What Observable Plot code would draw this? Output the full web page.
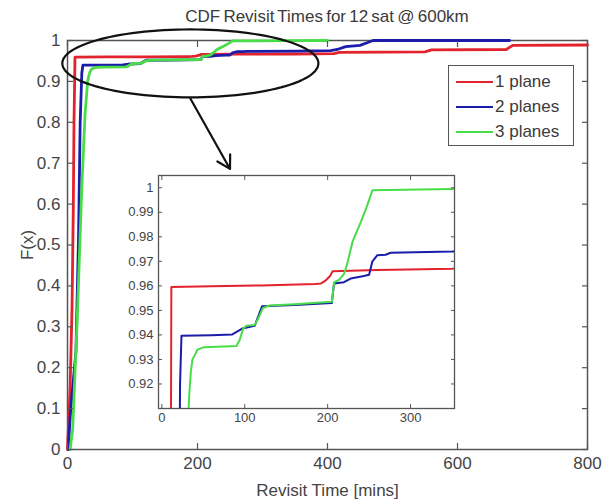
<!DOCTYPE html>
<html><head><meta charset="utf-8">
<script src="https://cdn.jsdelivr.net/npm/d3@7"></script>
<script src="https://cdn.jsdelivr.net/npm/@observablehq/plot@0.6"></script>
<style>
html,body{margin:0;padding:0;background:#fff;}
#wrap{position:relative;width:602px;height:501px;overflow:hidden;font-family:"Liberation Sans",Arial,sans-serif;color:#444;}
#main{position:absolute;left:0;top:0;}
#inset{position:absolute;left:110px;top:165px;}
#title{position:absolute;left:67px;width:520px;top:7px;text-align:center;font-size:17px;word-spacing:-1.5px;color:#3a3a3a;}
#legend{position:absolute;left:448px;top:65px;width:124px;height:79px;border:1.5px solid #555;background:#fff;}
.row{position:absolute;left:0;height:20px;font-size:17px;line-height:20px;color:#3a3a3a;}
.row span.sw{position:absolute;left:7px;top:9px;width:37px;height:0;border-top:2.5px solid #000;}
.row span.tx{position:absolute;left:46px;top:0;white-space:nowrap;}
</style></head>
<body>
<div id="wrap">
  <div id="main"></div>
  <div id="inset"></div>
  <div id="title"></div>
  <div id="legend"></div>
</div>
<script>
// ---- data ----
const titleText = "CDF Revisit Times for 12 sat @ 600km";
const xLabel = "Revisit Time [mins]";
const yLabel = "F(x)";
const seriesNames = ["1 plane", "2 planes", "3 planes"];
const seriesColors = ["#e2232d", "#1c1caa", "#48dd48"];

const red = [[0,0],[4,0.15],[7,0.35],[9,0.6],[10,0.8],[11,0.9],[11.5,0.9595],[60,0.9598],[120,0.9602],[185,0.9608],[192,0.961],[197,0.962],[203,0.964],[206,0.966],[260,0.9665],[350,0.967],[410,0.968],[418,0.971],[550,0.972],[560,0.977],[675,0.978],[685,0.988],[800,0.989]];
const blue = [[1,0],[5,0.1],[13,0.24],[17,0.52],[19.5,0.8],[22,0.92],[23.7,0.9397],[60,0.9399],[85,0.9402],[97,0.9426],[112,0.9437],[121,0.9517],[160,0.9522],[205,0.953],[207.7,0.961],[219.7,0.9615],[227.7,0.963],[243.7,0.964],[250,0.9645],[254,0.970],[260,0.9725],[270,0.9727],[276,0.9735],[350,0.974],[405,0.975],[415,0.978],[428,0.985],[450,0.988],[462,0.995],[470,1.0],[680,1.0]];
const green = [[4,0],[8,0.05],[15,0.32],[22,0.64],[27,0.82],[31,0.9],[33,0.915],[35,0.925],[37,0.930],[43,0.934],[51,0.935],[90,0.9355],[94,0.938],[98,0.9425],[102,0.9437],[112,0.944],[116,0.9465],[122,0.951],[130,0.952],[160,0.9525],[205,0.9535],[208,0.9615],[214,0.9625],[220,0.965],[224,0.9695],[230,0.978],[240,0.986],[248,0.993],[254,0.999],[350,0.9995],[400,1.0]];
const seriesData = [red, blue, green];

const xTicks = [0, 200, 400, 600, 800];
const yTicks = [0, 0.1, 0.2, 0.3, 0.4, 0.5, 0.6, 0.7, 0.8, 0.9, 1];
const insetXTicks = [0, 100, 200, 300];
const insetYTicks = [0.92, 0.93, 0.94, 0.95, 0.96, 0.97, 0.98, 0.99, 1];

// zoom annotation (data units): ellipse centre/radii, arrow start/end
const ellipseC = [189, 0.944];
const ellipseR = [197, 0.083];
const arrowFrom = [189, 0.858];
const arrowTo = [250, 0.686];

// ---- build ----
const fmt = d => String(+(+d).toFixed(2));
const font = '"Liberation Sans", Arial, sans-serif';
const axisCol = "#555";

const ellipsePts = d3.range(0, 121).map(i => {
  const t = i / 120 * 2 * Math.PI;
  return [ellipseC[0] + ellipseR[0] * Math.cos(t), ellipseC[1] + ellipseR[1] * Math.sin(t)];
});

const lineMarks = (sw, clip) => seriesData.map((s, i) =>
  Plot.line(s, {x: d => d[0], y: d => d[1], stroke: seriesColors[i], strokeWidth: sw, clip}));

const mainChart = Plot.plot({
  width: 602, height: 501,
  marginLeft: 67, marginRight: 15, marginTop: 40, marginBottom: 52,
  x: {domain: [0, 800]},
  y: {domain: [0, 1]},
  style: {fontFamily: font, fontSize: "17px", color: "#444", background: "transparent", overflow: "visible"},
  marks: [
    Plot.frame({stroke: axisCol, strokeWidth: 1.5}),
    ...lineMarks(2.8, false),
    Plot.axisX({anchor: "bottom", ticks: xTicks, tickSize: -6, tickPadding: 13, tickFormat: fmt, stroke: axisCol, strokeWidth: 1.2,
      label: xLabel, labelAnchor: "center", labelArrow: "none", labelOffset: 46}),
    Plot.axisX({anchor: "top", ticks: xTicks, tickSize: -6, tickFormat: () => "", stroke: axisCol, strokeWidth: 1.2, label: null}),
    Plot.axisY({anchor: "left", ticks: yTicks, tickSize: -6, tickPadding: 13, tickFormat: fmt, stroke: axisCol, strokeWidth: 1.2,
      label: yLabel, labelAnchor: "center", labelArrow: "none", labelOffset: 47}),
    Plot.axisY({anchor: "right", ticks: yTicks, tickSize: -6, tickFormat: () => "", stroke: axisCol, strokeWidth: 1.2, label: null}),
    Plot.line(ellipsePts, {x: d => d[0], y: d => d[1], stroke: "#111", strokeWidth: 2.2}),
    Plot.arrow([[arrowFrom, arrowTo]], {x1: d => d[0][0], y1: d => d[0][1], x2: d => d[1][0], y2: d => d[1][1],
      stroke: "#111", strokeWidth: 2.2, headLength: 10})
  ]
});
document.getElementById("main").appendChild(mainChart);

const insetChart = Plot.plot({
  width: 356, height: 268,
  marginLeft: 48, marginRight: 12, marginTop: 10, marginBottom: 25,
  x: {domain: [-4, 353]},
  y: {domain: [0.91, 1.005]},
  style: {fontFamily: font, fontSize: "13px", color: "#444", background: "transparent", overflow: "visible"},
  marks: [
    Plot.frame({fill: "white", stroke: axisCol, strokeWidth: 1.3}),
    ...lineMarks(2, true),
    Plot.axisX({anchor: "bottom", ticks: insetXTicks, tickSize: -4, tickPadding: 8, tickFormat: fmt, stroke: axisCol, label: null}),
    Plot.axisX({anchor: "top", ticks: insetXTicks, tickSize: -4, tickFormat: () => "", stroke: axisCol, label: null}),
    Plot.axisY({anchor: "left", ticks: insetYTicks, tickSize: -4, tickPadding: 9, tickFormat: fmt, stroke: axisCol, label: null}),
    Plot.axisY({anchor: "right", ticks: insetYTicks, tickSize: -4, tickFormat: () => "", stroke: axisCol, label: null})
  ]
});
document.getElementById("inset").appendChild(insetChart);

document.getElementById("title").textContent = titleText;
const leg = document.getElementById("legend");
seriesNames.forEach((n, i) => {
  const r = document.createElement("div");
  r.className = "row";
  r.style.top = (6 + i * 25) + "px";
  r.style.width = "120px";
  const sw = document.createElement("span");
  sw.className = "sw"; sw.style.borderTopColor = seriesColors[i];
  const tx = document.createElement("span");
  tx.className = "tx"; tx.textContent = n;
  r.appendChild(sw); r.appendChild(tx);
  leg.appendChild(r);
});
</script>
</body></html>
